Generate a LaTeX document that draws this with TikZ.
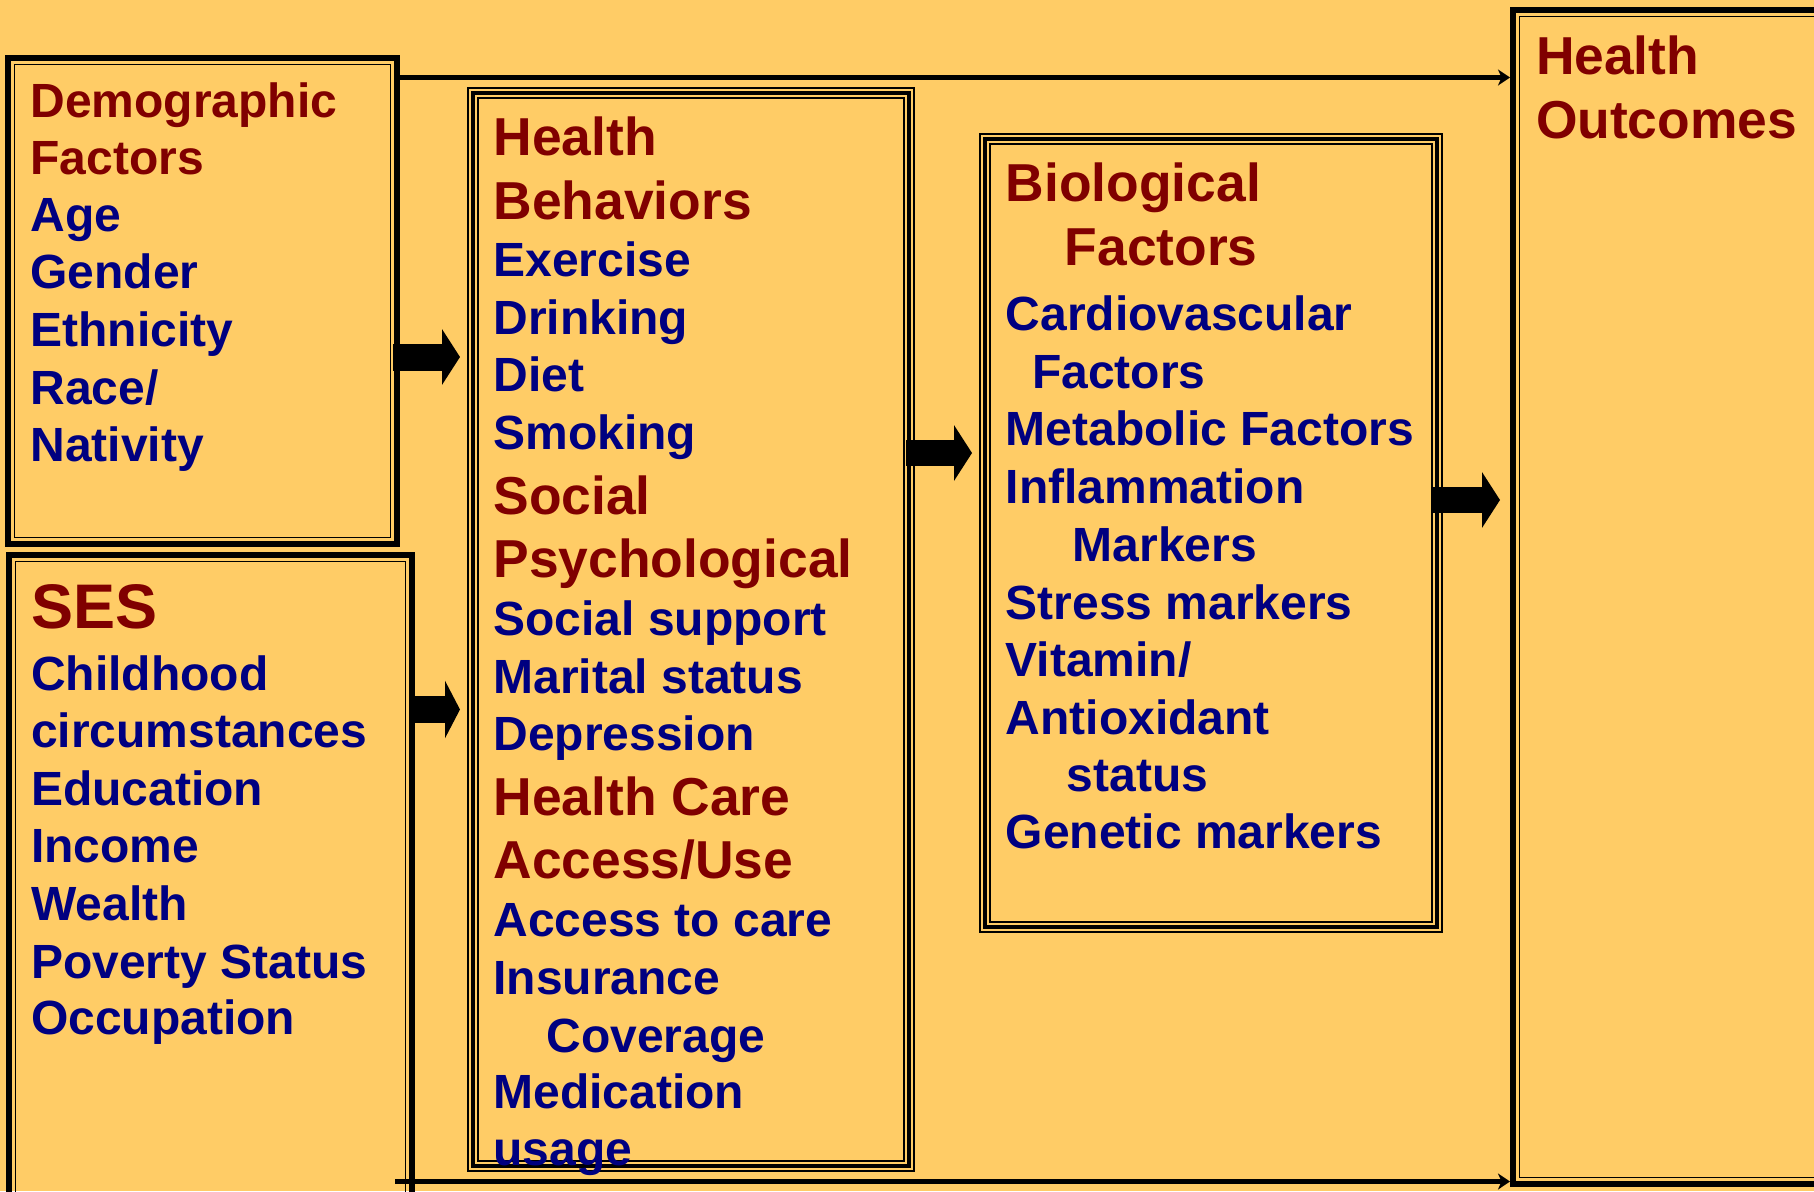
\documentclass[tikz,border=0pt]{standalone}
\usepackage{fontspec}
\setmainfont{Liberation Sans}
\usetikzlibrary{calc,arrows.meta}
\definecolor{bg}{HTML}{FFCC66}
\definecolor{hdr}{HTML}{800000}
\definecolor{itm}{HTML}{000080}

% thick outer line with a thin line inside it
\newcommand\framethick[1]{%
  \draw[line width=6pt] ([shift={(3,-3)}]#1.north west) rectangle ([shift={(-3,3)}]#1.south east);
  \draw[line width=1.6pt] ([shift={(9.5,-9.5)}]#1.north west) rectangle ([shift={(-9.5,9.5)}]#1.south east);}
% thin - thick - thin triple line
\newcommand\frametriple[1]{%
  \draw[line width=2pt, double=bg, double distance=8pt] ([shift={(6,-6)}]#1.north west) rectangle ([shift={(-6,6)}]#1.south east);
  \draw[line width=4.6pt] ([shift={(6,-6)}]#1.north west) rectangle ([shift={(-6,6)}]#1.south east);}

\begin{document}
\begin{tikzpicture}[x=1pt,y=1pt,
  frame/.style={rectangle, draw=none, inner sep=0pt, outer sep=0pt, anchor=north west},
  hd/.style={anchor=base west, inner sep=0pt, text=hdr, font=\bfseries\fontsize{53.4}{60}\selectfont},
  hdsm/.style={hd, font=\bfseries\fontsize{48}{56}\selectfont},
  hdbig/.style={hd, font=\bfseries\fontsize{63}{70}\selectfont},
  it/.style={anchor=base west, inner sep=0pt, text=itm, font=\bfseries\fontsize{48}{56}\selectfont},
  blockarrow/.style={line width=27pt, -{Triangle[length=18pt,width=55pt]}},
  thinarrow/.style={line width=4.5pt, -{Stealth[length=12pt,width=16pt,inset=3.5pt]}}]

\fill[bg] (0,0) rectangle (1814,-1191);
\useasboundingbox (0,0) rectangle (1814,-1191);
\clip (0,0) rectangle (1814,-1191);

% boxes
\node[frame, minimum width=395pt, minimum height=492pt] (demo) at (5,-55) {};
\node[frame, minimum width=409pt, minimum height=660pt] (ses) at (6,-552) {};
\node[frame, minimum width=448pt, minimum height=1085pt] (hb) at (467,-87) {};
\node[frame, minimum width=464pt, minimum height=800pt] (bio) at (979,-133) {};
\node[frame, minimum width=330pt, minimum height=1180pt] (ho) at (1510,-7) {};

\framethick{demo}
\framethick{ses}
\framethick{ho}
\frametriple{hb}
\frametriple{bio}

% direct paths to the outcomes
\coordinate (t0) at ([shift={(-5,-22.5)}]demo.north east);
\coordinate (b0) at ([shift={(-20,-629.5)}]ses.north east);
\draw[thinarrow] (t0) -- (t0 -| ho.west);
\draw[thinarrow] (b0) -- (b0 -| ho.west);

% block arrows
\draw[blockarrow] ([shift={(-7,-302)}]demo.north east) -- ++(67,0);
\draw[blockarrow, -{Triangle[length=15pt,width=57pt]}] ([shift={(-5,-157.5)}]ses.north east) -- ++(50,0);
\draw[blockarrow, line width=26pt] ([shift={(-9,-366)}]hb.north east) -- ++(66,0);
\draw[blockarrow, line width=26pt] ([shift={(-10,-367)}]bio.north east) -- ++(67,0);

% demographic factors
\node[hdsm] (dm1) at (30.2,-117) {Demographic};
\node[hdsm] (dm2) at (30.2,-174) {Factors};
\node[it] (dm3) at (30.2,-231) {Age};
\node[it] (dm4) at (30.2,-288) {Gender};
\node[it] (dm5) at (30.2,-346) {Ethnicity};
\node[it] (dm6) at (30.2,-404) {Race/};
\node[it] (dm7) at (30.2,-461) {Nativity};

% socioeconomic status
\node[hdbig] (se1) at (31,-628) {SES};
\node[it] (se2) at (31,-690) {Childhood};
\node[it] (se3) at (31,-747.5) {circumstances};
\node[it] (se4) at (31,-805) {Education};
\node[it] (se5) at (31,-862) {Income};
\node[it] (se6) at (31,-920) {Wealth};
\node[it] (se7) at (31,-978) {Poverty Status};
\node[it] (se8) at (31,-1034) {Occupation};

% behaviours, psychosocial, health care
\node[hd] (hb1) at (493.3,-155) {Health};
\node[hd] (hb2) at (493.3,-219) {Behaviors};
\node[it] (hb3) at (493.3,-276.5) {Exercise};
\node[it] (hb4) at (493.3,-334) {Drinking};
\node[it] (hb5) at (493.3,-391) {Diet};
\node[it] (hb6) at (493.3,-449) {Smoking};
\node[hd] (hb7) at (493.3,-514) {Social};
\node[hd] (hb8) at (493.3,-577) {Psychological};
\node[it] (hb9) at (493.3,-635) {Social support};
\node[it] (hb10) at (493.3,-693) {Marital status};
\node[it] (hb11) at (493.3,-750) {Depression};
\node[hd] (hb12) at (493.3,-815) {Health Care};
\node[hd] (hb13) at (493.3,-878) {Access/Use};
\node[it] (hb14) at (493.3,-936) {Access to care};
\node[it] (hb15) at (493.3,-994) {Insurance};
\node[it] (hb16) at (546.3,-1052) {Coverage};
\node[it] (hb17) at (493.3,-1108) {Medication};
\node[it] (hb18) at (493.3,-1165) {usage};

% biological factors
\node[hd] (bf1) at (1005.5,-201) {Biological};
\node[hd] (bf2) at (1064.5,-265) {Factors};
\node[it] (bf3) at (1005.5,-330) {Cardiovascular};
\node[it] (bf4) at (1032,-388) {Factors};
\node[it] (bf5) at (1005.5,-445) {Metabolic Factors};
\node[it] (bf6) at (1005.5,-503) {Inflammation};
\node[it] (bf7) at (1072.5,-561) {Markers};
\node[it] (bf8) at (1005.5,-619) {Stress markers};
\node[it] (bf9) at (1005.5,-676) {Vitamin/};
\node[it] (bf10) at (1005.5,-734) {Antioxidant};
\node[it] (bf11) at (1066.5,-791) {status};
\node[it] (bf12) at (1005.5,-848) {Genetic markers};

% outcomes
\node[hd] (ho1) at (1535.8,-74) {Health};
\node[hd] (ho2) at (1535.8,-138) {Outcomes};
\end{tikzpicture}
\end{document}
